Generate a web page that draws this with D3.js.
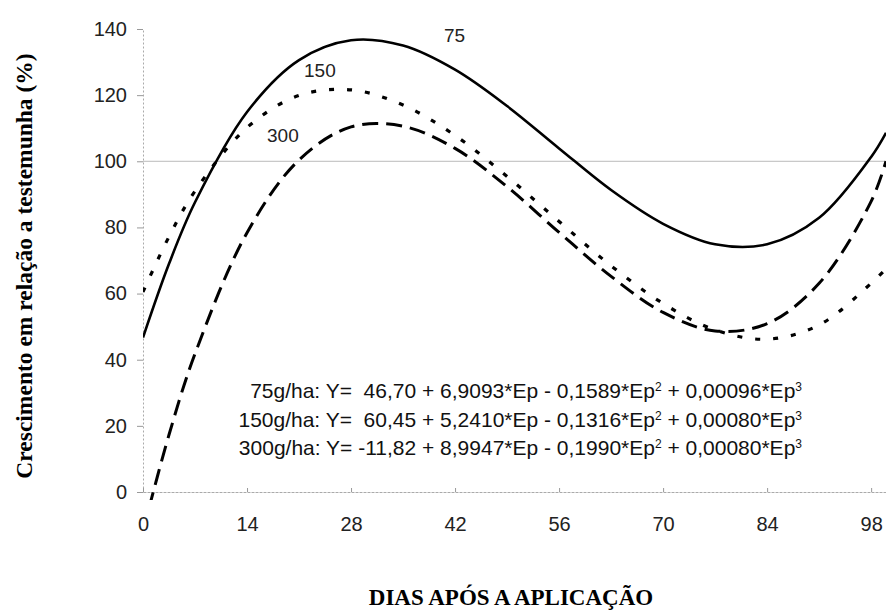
<!DOCTYPE html>
<html>
<head>
<meta charset="utf-8">
<script src="https://cdn.jsdelivr.net/npm/d3@7"></script>
<style>
  body { margin: 0; background: #fff; }
  .tick text { font-family: "Liberation Sans", Arial, sans-serif; font-size: 20px; fill: #222; }
</style>
</head>
<body>
<div id="chart"></div>
<script>
var svgWidth = 886;
var svgHeight = 611;

// days after application
var days = [0, 3.5, 7, 14, 21, 28, 35, 42, 49, 56, 63, 70, 77, 84, 91, 98, 100];
// growth relative to control (%)
var dose75 = [46.7, 69.0, 87.6, 114.9, 130.6, 136.6, 135.0, 127.7, 116.7, 103.9, 91.3, 81.1, 74.9, 74.9, 82.9, 101.3, 108.6];
var dose150 = [60.5, 77.2, 91.0, 110.2, 119.9, 121.6, 117.0, 107.8, 95.4, 81.8, 68.4, 57.0, 49.0, 46.2, 50.5, 63.1, 67.5];
var dose300 = [-11.8, 17.3, 41.8, 78.4, 100.4, 110.4, 110.6, 103.9, 92.3, 78.5, 65.2, 54.3, 48.7, 50.9, 63.1, 87.9, 100.0];

var xTicks = [0, 14, 28, 42, 56, 70, 84, 98];
var yTicks = [0, 20, 40, 60, 80, 100, 120, 140];

var curveLabels = ["75", "150", "300"];
var equations = [
  ["75g/ha: Y=  46,70 + 6,9093*Ep - 0,1589*Ep", "2", " + 0,00096*Ep", "3"],
  ["150g/ha: Y=  60,45 + 5,2410*Ep - 0,1316*Ep", "2", " + 0,00080*Ep", "3"],
  ["300g/ha: Y= -11,82 + 8,9947*Ep - 0,1990*Ep", "2", " + 0,00080*Ep", "3"]
];

var svg = d3.select("#chart")
  .append("svg")
  .attr("width", svgWidth)
  .attr("height", svgHeight);

var xScale = d3.scaleLinear().domain([0, 100]).range([143, 886]);
var yScale = d3.scaleLinear().domain([0, 140]).range([492, 29]);

// axes
var leftAxis = d3.axisLeft(yScale).tickValues(yTicks).tickSize(6).tickSizeOuter(0).tickPadding(10);
var bottomAxis = d3.axisBottom(xScale).tickValues(xTicks).tickSize(-4).tickSizeOuter(0).tickPadding(25);

var yAxisG = svg.append("g")
  .attr("transform", `translate(${xScale(0)}, 0)`)
  .call(leftAxis);
yAxisG.select(".domain").attr("stroke", "#aaa").attr("stroke-dasharray", "2,2");
yAxisG.selectAll(".tick line").attr("stroke", "#999");

var xAxisG = svg.append("g")
  .attr("transform", `translate(0, ${yScale(0)})`)
  .call(bottomAxis);
xAxisG.select(".domain").attr("stroke", "#aaa").attr("stroke-dasharray", "3,1");
xAxisG.selectAll(".tick line").attr("stroke", "#999");

// reference line at 100 %
svg.append("line")
  .attr("x1", xScale(0))
  .attr("x2", xScale(100))
  .attr("y1", yScale(100))
  .attr("y2", yScale(100))
  .attr("stroke", "#bbb")
  .attr("stroke-width", 1);

svg.append("clipPath")
  .attr("id", "plotClip")
  .append("rect")
  .attr("x", xScale(0))
  .attr("y", 0)
  .attr("width", xScale(100) - xScale(0))
  .attr("height", 500);

var line = d3.line()
  .x(d => xScale(d[0]))
  .y(d => yScale(d[1]))
  .curve(d3.curveCatmullRom);

var series = [
  { values: dose75, dash: null, width: 2.6 },
  { values: dose150, dash: "5,13", width: 3.2 },
  { values: dose300, dash: "16,8", width: 3 }
];

svg.append("g")
  .attr("clip-path", "url(#plotClip)")
  .selectAll("path")
  .data(series)
  .enter()
  .append("path")
  .attr("d", s => line(days.map((d, i) => [d, s.values[i]])))
  .attr("fill", "none")
  .attr("stroke", "#000")
  .attr("stroke-width", s => s.width)
  .attr("stroke-dasharray", s => s.dash);

// curve labels
var labelPos = [[444, 42], [304, 77], [267, 142]];
svg.append("g")
  .selectAll("text")
  .data(curveLabels)
  .enter()
  .append("text")
  .attr("x", (d, i) => labelPos[i][0])
  .attr("y", (d, i) => labelPos[i][1])
  .style("font-family", "Liberation Sans, Arial, sans-serif")
  .style("font-size", "19px")
  .attr("fill", "#222")
  .text(d => d);

// regression equations
var eqText = svg.append("g")
  .style("font-family", "Liberation Sans, Arial, sans-serif")
  .style("font-size", "21px")
  .style("white-space", "pre")
  .attr("fill", "#111");

equations.forEach(function(parts, i) {
  var t = eqText.append("text")
    .attr("x", 802)
    .attr("y", 398 + i * 28.5)
    .attr("xml:space", "preserve")
    .attr("text-anchor", "end");
  parts.forEach(function(p, j) {
    var sp = t.append("tspan").text(p);
    if (j % 2 === 1) {
      sp.attr("dy", -7).style("font-size", "12px");
    } else if (j > 0) {
      sp.attr("dy", 7);
    }
  });
});

// axis titles
svg.append("text")
  .attr("transform", `translate(32, 266) rotate(-90)`)
  .attr("text-anchor", "middle")
  .style("font-family", "Liberation Serif, Times New Roman, serif")
  .style("font-weight", "bold")
  .style("font-size", "23.5px")
  .text("Crescimento em relação a testemunha (%)");

svg.append("text")
  .attr("x", 511)
  .attr("y", 605)
  .attr("text-anchor", "middle")
  .style("font-family", "Liberation Serif, Times New Roman, serif")
  .style("font-weight", "bold")
  .style("font-size", "23px")
  .text("DIAS APÓS A APLICAÇÃO");
</script>
</body>
</html>
